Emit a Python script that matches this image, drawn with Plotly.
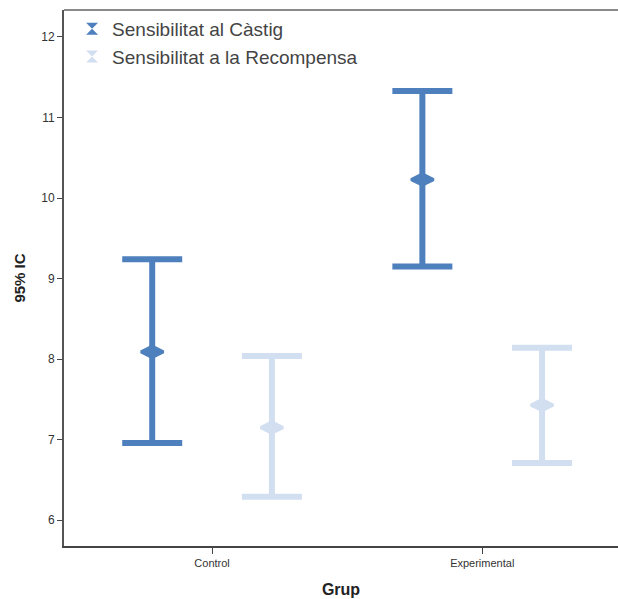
import plotly.graph_objects as go

# Mean and 95% confidence interval per group
groups = ["Control", "Experimental"]
series_names = ["Sensibilitat al Càstig", "Sensibilitat a la Recompensa"]
castig_mean = [8.09, 10.23]
castig_low = [6.96, 9.15]
castig_high = [9.24, 11.33]
recomp_mean = [7.15, 7.43]
recomp_low = [6.29, 6.71]
recomp_high = [8.04, 8.14]
y_ticks = [6, 7, 8, 9, 10, 11, 12]

colors = ["#4e80bd", "#d2dff0"]
offsets = [-0.2215, 0.2215]

fig = go.Figure()

series = [
    (castig_mean, castig_low, castig_high),
    (recomp_mean, recomp_low, recomp_high),
]
for (mean, low, high), name, color, off in zip(series, series_names, colors, offsets):
    xs = [i + off for i in range(len(groups))]
    fig.add_trace(go.Scatter(
        x=xs, y=mean, mode="markers", name=name, showlegend=False,
        marker=dict(symbol="diamond-wide", size=16, color=color,
                    line=dict(color=color, width=3)),
        error_y=dict(type="data", symmetric=False,
                     array=[h - m for h, m in zip(high, mean)],
                     arrayminus=[m - l for m, l in zip(mean, low)],
                     color=color, thickness=6, width=30),
    ))
    # legend entry with an interval-style icon
    fig.add_trace(go.Scatter(
        x=[None], y=[None], mode="markers", name=name,
        marker=dict(symbol="hourglass", size=12, color=color),
    ))

fig.add_shape(type="line", xref="paper", yref="paper", x0=0, x1=1, y0=1, y1=1,
              line=dict(color="#8a8a8a", width=2))

fig.update_layout(
    width=618, height=599,
    margin=dict(l=64, r=0, t=10, b=53),
    paper_bgcolor="white", plot_bgcolor="white",
    font=dict(family="Liberation Sans, Arial, sans-serif", color="#333333"),
    legend=dict(x=0.0146, y=1.0, xanchor="left", yanchor="top",
                font=dict(size=19, color="#444444"),
                bgcolor="rgba(0,0,0,0)", tracegroupgap=0, itemwidth=30),
    xaxis=dict(
        range=[-0.548, 1.5026], tickvals=[0, 1], ticktext=groups,
        showgrid=False, zeroline=False, showline=True, linecolor="#444444", linewidth=2,
        ticks="outside", ticklen=6, tickwidth=1, tickcolor="#444444",
        tickfont=dict(size=11, color="#333333"),
        title=dict(text="<b>Grup</b>", font=dict(size=16, color="#222222"), standoff=16),
    ),
    yaxis=dict(
        range=[5.68, 12.335], tickvals=y_ticks,
        showgrid=False, zeroline=False, showline=True, linecolor="#555555", linewidth=2,
        ticks="outside", ticklen=5, tickwidth=1, tickcolor="#444444",
        tickfont=dict(size=12, color="#333333"),
        title=dict(text="<b>95% IC</b>", font=dict(size=15, color="#222222"), standoff=12),
    ),
)

fig.write_html("out.html")
